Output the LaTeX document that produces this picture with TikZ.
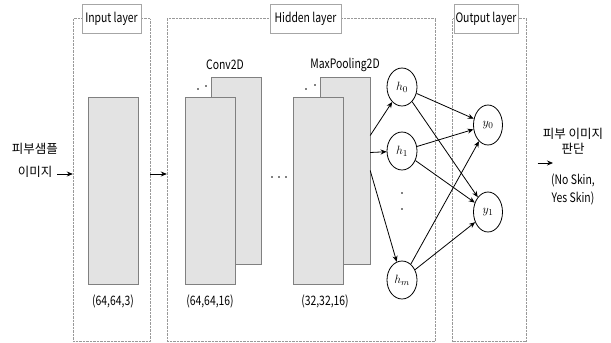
\documentclass[tikz,border=0pt]{standalone}
\usepackage{fontspec}
\setmainfont{Noto Sans CJK KR}[FakeStretch=0.8]
\newfontfamily\kr{Noto Sans CJK KR}
\usetikzlibrary{arrows.meta,shapes.geometric}

\begin{document}
\begin{tikzpicture}[x=1pt,y=-1pt,font=\fontsize{13}{15}\selectfont,
        frame/.style={draw=gray!80,densely dotted,minimum height=323pt},
        tag/.style={draw=gray!70,fill=white,inner sep=0pt,minimum height=29pt},
        fmap/.style={draw=gray,fill=gray!22,minimum width=50pt,minimum height=187pt},
        neuron/.style={draw,ellipse,thick,inner sep=0pt,minimum width=30pt,minimum height=38pt,
            font=\fontsize{13}{14}\selectfont},
        hangul/.style={font=\kr\fontsize{12.5}{15}\selectfont},
        link/.style={-{Stealth[length=6pt,width=5pt]},thick}]
        \useasboundingbox (0,0) rectangle (611,343);
        % frames and their tags
        \node[frame,minimum width=77pt] (inframe) at (111.5,180) {};
        \node[frame,minimum width=268pt] (hidframe) at (301,180) {};
        \node[frame,minimum width=74pt] (outframe) at (489.5,180) {};
        \node[tag,minimum width=59pt] (intag) at (111.5,18.5) {Input layer};
        \node[tag,minimum width=71pt] (hidtag) at (305.5,18.5) {Hidden layer};
        \node[tag,minimum width=64pt] (outtag) at (486,18.5) {Output layer};
        % feature maps
        \node[fmap] (inmap) at (113,190.5) {};
        \node[fmap] (conv2) at (236,170.5) {};
        \node[fmap] (conv1) at (210,190.5) {};
        \node[fmap] (pool2) at (345,170.5) {};
        \node[fmap] (pool1) at (318,190.5) {};
        \node (convlbl) at (225,65) {Conv2D};
        \node (poollbl) at (345,65) {MaxPooling2D};
        \node (insize) at (113,301) {(64,64,3)};
        \node (convsize) at (210,301) {(64,64,16)};
        \node (poolsize) at (325,301) {(32,32,16)};
        \foreach \px/\py in {198/89,206/86,306/89,315/85}
            \fill (\px,\py) circle (0.8pt);
        \foreach \px in {272,279,286}
            \fill (\px,177) circle (0.8pt);
        \foreach \py in {193,209}
            \fill (402,\py) circle (0.8pt);
        % neurons
        \node[neuron] (h0) at (402,87) {$h_0$};
        \node[neuron] (h1) at (402,151) {$h_1$};
        \node[neuron] (hm) at (402,280) {$h_m$};
        \node[neuron,minimum width=29pt,minimum height=40pt] (y0) at (488,125) {$y_0$};
        \node[neuron,minimum width=29pt,minimum height=40pt] (y1) at (488,212) {$y_1$};
        \draw[link] ([yshift=35pt]pool2.east) -- (h0);
        \draw[link] ([yshift=18pt]pool2.east) -- (h1);
        \draw[link] (pool2.east) -- (hm);
        \foreach \h in {h0,h1,hm}
            \foreach \y in {y0,y1}
                \draw[link] (\h) -- (\y);
        % input and result text
        \node[hangul] (src1) at (35,149) {피부샘플};
        \node[hangul] (src2) at (35,172) {이미지};
        \coordinate (srcend) at (57,174);
        \draw[link] (srcend) -- (srcend -| inframe.west);
        \draw[link] (inframe.east |- srcend) -- (hidframe.west |- srcend);
        \coordinate (restip) at (553,163);
        \draw[link] ([xshift=11pt]outframe.east |- restip) -- (restip);
        \node[hangul,align=center,inner sep=0pt] (result) at (573,141)
            {피부 이미지\\판단};
        \node[align=center,inner sep=0pt] (classes) at (573,189)
            {(No Skin,\\[3pt]Yes Skin)};
    \end{tikzpicture}
\end{document}
